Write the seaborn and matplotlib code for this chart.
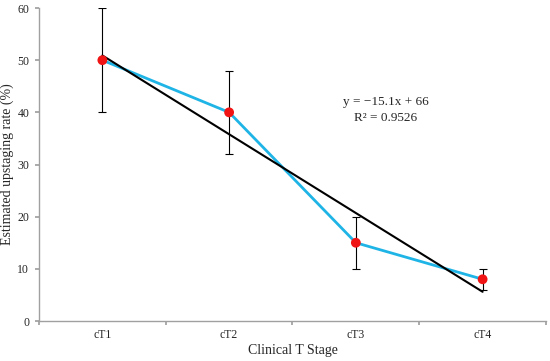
import numpy as np
import pandas as pd
import seaborn as sns
import matplotlib.pyplot as plt

# data
stages = ["cT1", "cT2", "cT3", "cT4"]
rate = [50, 40, 15, 8]
err_low = [10, 8, 5, 2]
err_high = [10, 8, 5, 2]

sns.set_theme(style="white")
plt.rcParams['font.family'] = ['Liberation Serif', 'DejaVu Serif']

x = np.arange(1, len(stages) + 1)
df = pd.DataFrame({"x": x, "rate": rate})

# linear trend line (Excel style)
slope, intercept = np.polyfit(x, rate, 1)
pred = slope * x + intercept
r2 = 1 - np.sum((np.array(rate) - pred) ** 2) / np.sum((np.array(rate) - np.mean(rate)) ** 2)
trend = pd.DataFrame({"x": x, "fit": pred})

fig = plt.figure(figsize=(5.5, 3.61), dpi=100)
ax = fig.add_axes([0.0709, 0.1108, 0.9218, 0.867])

ax.errorbar(x, rate, yerr=[err_low, err_high], fmt="none", ecolor="black",
            elinewidth=0.8, capsize=3, capthick=0.8, zorder=2)
sns.lineplot(data=df, x="x", y="rate", color="#1FB4E6", linewidth=2, ax=ax, zorder=3)
sns.lineplot(data=trend, x="x", y="fit", color="black", linewidth=1.5, ax=ax, zorder=4)
sns.scatterplot(data=df, x="x", y="rate", color="#F01414", s=50, edgecolor="none", ax=ax, zorder=5)

ax.text(0.684, 0.70, f"y = \u2212{abs(slope):.1f}x + {intercept:.0f}", transform=ax.transAxes,
        ha="center", va="center", fontsize=9.5)
ax.text(0.684, 0.648, f"R\u00b2 = {r2:.4f}", transform=ax.transAxes,
        ha="center", va="center", fontsize=9.5)

ax.set_xlim(0.5, len(stages) + 0.5)
ax.set_ylim(0, 60)
ax.set_yticks(range(0, 61, 10))
ax.set_xticks(np.arange(0.5, len(stages) + 1, 1))
ax.set_xticklabels([])
ax.set_xticks(x, minor=True)
ax.set_xticklabels(stages, minor=True)
ax.tick_params(axis="x", which="major", direction="out", length=3, color="#A0A0A0", bottom=True)
ax.tick_params(axis="x", which="minor", length=0, labelsize=8.5, pad=6)
ax.tick_params(axis="y", direction="out", length=3, color="#A0A0A0", left=True, labelsize=8.5, pad=4)

for side in ["top", "right"]:
    ax.spines[side].set_visible(False)
for side in ["left", "bottom"]:
    ax.spines[side].set_color("#A0A0A0")
    ax.spines[side].set_linewidth(1)

ax.set_xlabel("Clinical T Stage", fontsize=10, labelpad=2)
ax.set_ylabel("Estimated upstaging rate (%)", fontsize=10, labelpad=2)
ax.grid(False)

fig.savefig("out.png", dpi=100)
